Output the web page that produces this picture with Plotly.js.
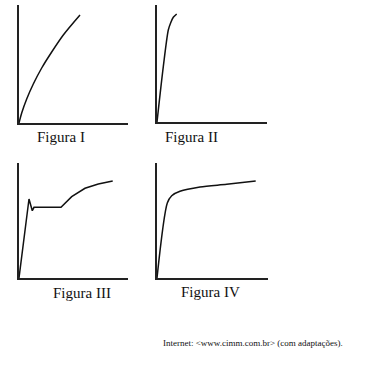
<!DOCTYPE html>
<html>
<head>
<meta charset="utf-8">
<script src="https://cdn.plot.ly/plotly-3.0.1.min.js"></script>
<style>html,body{margin:0;padding:0;background:#fff;}#chart{width:369px;height:365px;}</style>
</head>
<body>
<div id="chart"></div>
<script>
// Curve data (arbitrary units: deformation vs. tension)
var fig1X = [0, 2.7, 7.7, 14.3, 22.7, 32.7, 44.3, 61];
var fig1Y = [0, 10, 24, 39, 55, 71, 88, 108];

var fig2X = [0, 6.3, 11.3, 13.7, 16.3, 19.7];
var fig2Y = [0, 55.3, 92, 99.3, 104.7, 108];

var fig3X = [0, 10, 13.3, 15, 42, 52.7, 66, 79.3, 93.7];
var fig3Y = [0, 79, 67.3, 70.7, 70.7, 81.3, 89.7, 94, 97];

var fig4X = [0, 10.3, 14.7, 23, 43, 69.7, 98.7];
var fig4Y = [0, 75, 82.3, 86.7, 91, 93.7, 97];

var captions = ["Figura I", "Figura II", "Figura III", "Figura IV"];
var sourceText = "Internet: &lt;www.cimm.com.br&gt; (com adaptações).";

var W = 369, H = 365;
function px(x){ return x / W; }
function py(y){ return 1 - y / H; }

// panel boxes in pixels: [left, right, top, bottom]
var boxes = [
  [19, 128, 5, 123],
  [157, 267, 5, 122],
  [19, 128, 163, 278],
  [157, 268, 163, 278]
];

var xs = [fig1X, fig2X, fig3X, fig4X];
var ys = [fig1Y, fig2Y, fig3Y, fig4Y];
var shapes = ['spline', 'spline', 'linear', 'spline'];

var data = [];
var layout = {
  width: W, height: H,
  margin: {l:0, r:0, t:0, b:0},
  paper_bgcolor: '#fff', plot_bgcolor: 'rgba(0,0,0,0)',
  showlegend: false,
  font: {family: 'Liberation Serif'},
  annotations: []
};

for (var i = 0; i < 4; i++) {
  var b = boxes[i];
  var sfx = i === 0 ? '' : String(i + 1);
  data.push({
    x: xs[i], y: ys[i], mode: 'lines', type: 'scatter',
    xaxis: 'x' + sfx, yaxis: 'y' + sfx,
    line: {color: '#111', width: 1.5, shape: shapes[i], smoothing: 0.8},
    hoverinfo: 'skip'
  });
  layout['xaxis' + sfx] = {
    domain: [px(b[0]), px(b[1])], range: [0, b[1] - b[0]],
    showline: true, linecolor: '#222', linewidth: 2, mirror: false,
    showgrid: false, zeroline: false, showticklabels: false, ticks: '',
    anchor: 'y' + sfx, fixedrange: true
  };
  layout['yaxis' + sfx] = {
    domain: [py(b[3]), py(b[2])], range: [0, b[3] - b[2]],
    showline: true, linecolor: '#222', linewidth: 2, mirror: false,
    showgrid: false, zeroline: false, showticklabels: false, ticks: '',
    anchor: 'x' + sfx, fixedrange: true
  };
}

var capPos = [[61, 137], [191, 137], [82, 293], [210, 292]];
for (var k = 0; k < 4; k++) {
  layout.annotations.push({
    text: captions[k], xref: 'paper', yref: 'paper',
    x: px(capPos[k][0]), y: py(capPos[k][1]),
    xanchor: 'center', yanchor: 'middle', showarrow: false,
    font: {family: 'Liberation Serif', size: 15, color: '#111'}
  });
}
layout.annotations.push({
  text: sourceText, xref: 'paper', yref: 'paper',
  x: px(161), y: py(343), xanchor: 'left', yanchor: 'middle', showarrow: false,
  font: {family: 'Liberation Serif', size: 9, color: '#111'}
});

Plotly.newPlot('chart', data, layout, {staticPlot: true, displayModeBar: false});
</script>
</body>
</html>
